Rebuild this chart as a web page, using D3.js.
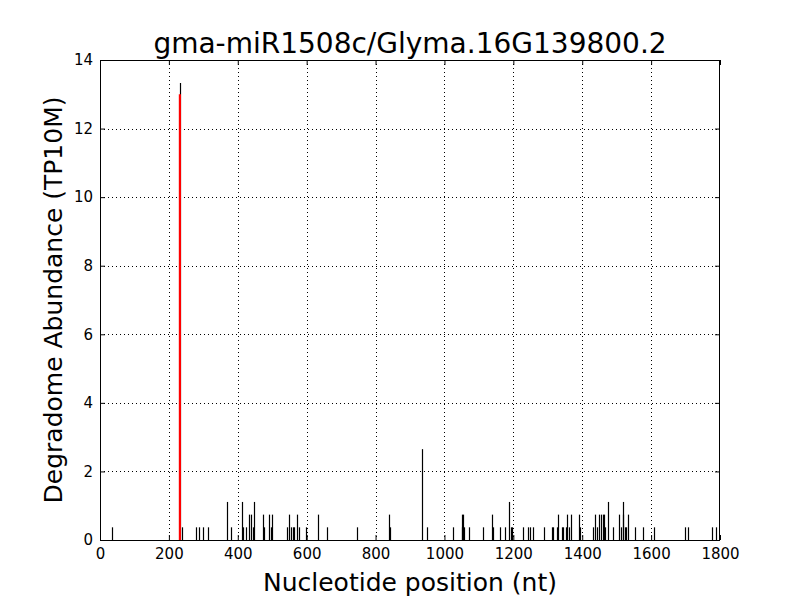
<!DOCTYPE html>
<html><head><meta charset="utf-8">
<script src="https://cdn.jsdelivr.net/npm/d3@7"></script>
<style>body{margin:0;background:#fff;} svg{display:block;} text{font-family:"DejaVu Sans",sans-serif;}</style>
</head><body>
<svg id="c" width="800" height="600"></svg>
<script>
const titleText = "gma-miR1508c/Glyma.16G139800.2";
const xLabel = "Nucleotide position (nt)";
const yLabel = "Degradome Abundance (TP10M)";
const xTicks = [0,200,400,600,800,1000,1200,1400,1600,1800];
const yTicks = [0,2,4,6,8,10,12,14];
const positions = [34,232,238,279,288,300,314,370,380,411,416,423,433,437,443,448,474,476,491,495,499,544,550,554,559,564,573,579,597,634,660,747,840,842,936,950,1026,1050,1052,1054,1056,1072,1113,1139,1141,1161,1177,1187,1192,1195,1229,1244,1248,1258,1289,1311,1316,1328,1331,1340,1343,1352,1355,1363,1367,1392,1394,1432,1437,1442,1450,1454,1459,1464,1466,1476,1490,1508,1512,1517,1519,1524,1527,1532,1554,1577,1609,1698,1708,1778,1787];
const abundance = [0.37,13.33,0.37,0.37,0.37,0.37,0.37,1.11,0.37,1.11,0.37,0.37,0.74,0.74,0.37,1.11,0.74,0.37,0.74,0.37,0.74,0.37,0.74,0.37,0.37,0.37,0.74,0.37,0.37,0.74,0.37,0.37,0.74,0.37,2.65,0.37,0.37,0.37,0.74,0.74,0.37,0.37,0.37,0.74,0.37,0.37,0.37,1.11,0.37,0.37,0.37,0.37,0.37,0.37,0.37,0.37,0.37,0.37,0.74,0.37,0.37,0.37,0.74,0.37,0.74,0.74,0.37,0.37,0.74,0.37,0.74,0.74,0.74,0.74,0.37,1.11,0.37,0.74,0.37,0.74,1.11,0.37,0.37,0.74,0.37,0.37,0.37,0.37,0.37,0.37,0.37];
const sitePos = [232];
const siteVal = [13.0];

const svg = d3.select("#c");
const m = {l:100, r:720, t:60, b:540};
const x = d3.scaleLinear().domain([0,1800]).range([m.l, m.r]);
const y = d3.scaleLinear().domain([0,14]).range([m.b, m.t]);

// grid
const g = svg.append("g");
g.selectAll(".gx").data(xTicks.slice(1,-1)).join("line")
  .attr("x1", d=>Math.round(x(d))+0.5).attr("x2", d=>Math.round(x(d))+0.5)
  .attr("y1", m.t).attr("y2", m.b).attr("stroke","#000").attr("stroke-width",1).attr("stroke-dasharray","1,3");
g.selectAll(".gy").data(yTicks.slice(1,-1)).join("line")
  .attr("y1", d=>Math.round(y(d))+0.5).attr("y2", d=>Math.round(y(d))+0.5)
  .attr("x1", m.l).attr("x2", m.r).attr("stroke","#000").attr("stroke-width",1).attr("stroke-dasharray","1,3");

// bars
svg.append("g").selectAll("line").data(positions.map((p,i)=>[p,abundance[i]])).join("line")
  .attr("x1", d=>Math.round(x(d[0]))+0.5).attr("x2", d=>Math.round(x(d[0]))+0.5)
  .attr("y1", y(0)).attr("y2", d=>y(d[1])).attr("stroke","#000").attr("stroke-width",1.2);
svg.append("g").selectAll("line").data(sitePos.map((p,i)=>[p,siteVal[i]])).join("line")
  .attr("x1", d=>x(d[0])).attr("x2", d=>x(d[0]))
  .attr("y1", y(0)).attr("y2", d=>y(d[1])).attr("stroke","#ff0000").attr("stroke-width",2.2);

// axes (ticks inward, all sides)
const fs = 15;
const fmt = d3.format("d");
const xb = svg.append("g").attr("transform",`translate(0,${m.b})`).call(d3.axisBottom(x).tickValues(xTicks).tickFormat(fmt).tickSizeInner(-5).tickSizeOuter(0).tickPadding(8));
const xt = svg.append("g").attr("transform",`translate(0,${m.t})`).call(d3.axisTop(x).tickValues(xTicks).tickSizeInner(-5).tickSizeOuter(0).tickFormat(""));
const yl = svg.append("g").attr("transform",`translate(${m.l},0)`).call(d3.axisLeft(y).tickValues(yTicks).tickFormat(fmt).tickSizeInner(-5).tickSizeOuter(0).tickPadding(7));
const yr = svg.append("g").attr("transform",`translate(${m.r},0)`).call(d3.axisRight(y).tickValues(yTicks).tickSizeInner(-5).tickSizeOuter(0).tickFormat(""));
[xb,xt,yl,yr].forEach(a=>{a.select(".domain").remove(); a.selectAll("line").attr("stroke","#000"); a.selectAll("text").attr("font-size",fs).attr("fill","#000").attr("font-family","DejaVu Sans");});
svg.append("rect").attr("x",m.l+0.5).attr("y",m.t+0.5).attr("width",m.r-m.l-1).attr("height",m.b-m.t).attr("fill","none").attr("stroke","#000").attr("stroke-width",1);

svg.append("text").attr("x",410).attr("y",53).attr("text-anchor","middle").attr("font-size",28).text(titleText);
svg.append("text").attr("x",410).attr("y",591).attr("text-anchor","middle").attr("font-size",25).text(xLabel);
svg.append("text").attr("transform","translate(62,300) rotate(-90)").attr("text-anchor","middle").attr("font-size",25).text(yLabel);
</script>
</body></html>
